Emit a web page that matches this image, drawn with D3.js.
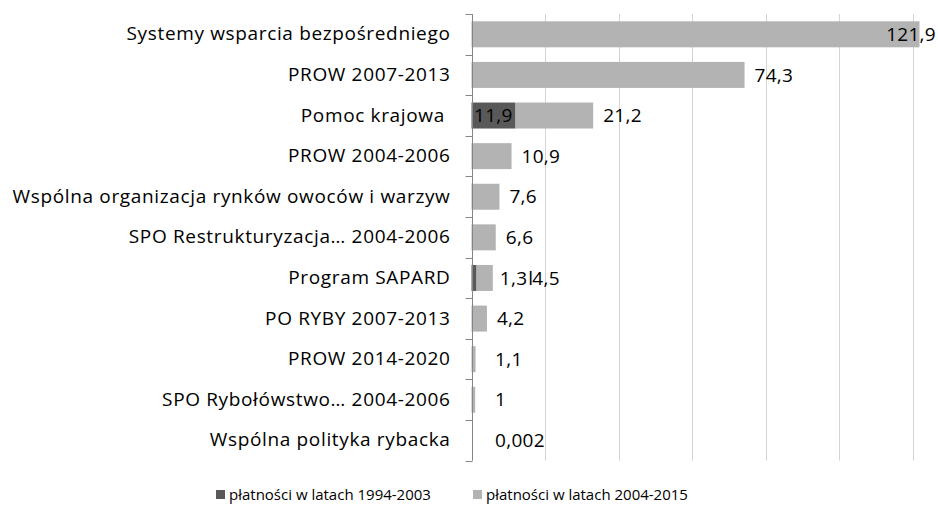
<!DOCTYPE html>
<html><head><meta charset="utf-8">
<script src="https://cdn.jsdelivr.net/npm/d3@7"></script>
<style>
html,body{margin:0;padding:0;background:#fff;}
svg{display:block;}
text{font-family:"Open Sans",sans-serif;fill:#000;white-space:pre;}
</style></head>
<body>
<svg id="chart" width="938" height="510"></svg>
<script>
const categories = [
  "Systemy wsparcia bezpośredniego",
  "PROW 2007-2013",
  "Pomoc krajowa ",
  "PROW 2004-2006",
  "Wspólna organizacja rynków owoców i warzyw",
  "SPO Restrukturyzacja… 2004-2006",
  "Program SAPARD",
  "PO RYBY 2007-2013",
  "PROW 2014-2020",
  "SPO Rybołówstwo… 2004-2006",
  "Wspólna polityka rybacka"
];
const series1994 = [0, 0, 11.9, 0, 0, 0, 1.3, 0, 0, 0, 0];
const series2004 = [121.9, 74.3, 21.2, 10.9, 7.6, 6.6, 4.5, 4.2, 1.1, 1, 0.002];
const seriesNames = ["płatności w latach 1994-2003", "płatności w latach 2004-2015"];
const xTicks = [0, 20, 40, 60, 80, 100, 120, 140];
const colors = ["#595959", "#b3b3b3"];

const fmt = v => String(v).replace(".", ",");
const svg = d3.select("#chart");
const W = 938;
const FS = "19px";
const LS = "0.65px";
const x = d3.scaleLinear().domain([0, 140]).range([471.5, 986]);
const y = d3.scaleBand().domain(categories).range([14, 460.7]).paddingInner(0.36).paddingOuter(0.18);

// gridlines
svg.append("g").selectAll("line").data(xTicks.filter(t => t > 0)).join("line")
  .attr("x1", d => Math.round(x(d)) + 0.5).attr("x2", d => Math.round(x(d)) + 0.5)
  .attr("y1", 14).attr("y2", 460.7)
  .attr("stroke", "#d4d4d4").attr("stroke-width", 1);

// bars
const rows = categories.map((c, i) => ({c, a: series1994[i], b: series2004[i]}));
const g = svg.append("g");
g.selectAll("rect.b").data(rows).join("rect").attr("class", "b")
  .attr("x", d => x(d.a)).attr("width", d => x(d.a + d.b) - x(d.a))
  .attr("y", d => y(d.c)).attr("height", y.bandwidth())
  .attr("fill", colors[1]);
g.selectAll("rect.a").data(rows.filter(d => d.a > 0)).join("rect").attr("class", "a")
  .attr("x", x(0)).attr("width", d => x(d.a) - x(0))
  .attr("y", d => y(d.c)).attr("height", y.bandwidth())
  .attr("fill", colors[0]);

// y axis
const yAxis = d3.axisLeft(y).tickSize(0).tickPadding(22);
const ya = svg.append("g").attr("transform", `translate(${Math.round(x(0)) + 0.5},0)`).call(yAxis);
ya.select(".domain").remove();
ya.selectAll("text").style("font-size", FS).style("font-family", "Open Sans")
  .style("letter-spacing", LS).attr("fill", "#000");
const ax = svg.append("g").attr("transform", `translate(${Math.round(x(0)) + 0.5},0)`);
ax.append("line").attr("y1", 14).attr("y2", 460.7).attr("stroke", "#868686");
const bounds = [14].concat(categories.map((c, i) => 14 + (460.7 - 14) * (i + 1) / categories.length));
ax.selectAll("line.t").data(bounds).join("line").attr("class", "t")
  .attr("x1", -7).attr("x2", 0).attr("y1", d => Math.round(d) + 0.5).attr("y2", d => Math.round(d) + 0.5)
  .attr("stroke", "#868686");

// value labels
const lab = svg.append("g").style("font-size", FS).style("letter-spacing", "0.3px");
rows.forEach(d => {
  const yc = y(d.c) + y.bandwidth() / 2;
  const end = x(d.a + d.b);
  let cursor = Math.max(end + 10, 495);
  if (d.a > 0) {
    const t = lab.append("text").attr("y", yc).attr("dy", "0.35em").text(fmt(d.a));
    const w = t.node().getComputedTextLength();
    if (x(d.a) - x(0) > w + 4) {
      t.attr("x", (x(0) + x(d.a)) / 2).attr("text-anchor", "middle");
    } else {
      t.attr("x", end + 7);
      cursor = end + 7 + w;
      lab.append("text").attr("x", cursor + 1).attr("y", yc).attr("dy", "0.35em").text("l");
      cursor += 5;
    }
  }
  const t2 = lab.append("text").attr("y", yc).attr("dy", "0.35em").text(fmt(d.b));
  const w2 = t2.node().getComputedTextLength();
  if (cursor + w2 > W - 2) t2.attr("x", W - 2).attr("text-anchor", "end");
  else t2.attr("x", cursor);
});

// legend
const leg = svg.append("g").style("font-size", "15px");
const legX = [216, 473];
seriesNames.forEach((n, i) => {
  leg.append("rect").attr("x", legX[i]).attr("y", 490).attr("width", 9).attr("height", 9).attr("fill", colors[i]);
  leg.append("text").attr("x", legX[i] + 13).attr("y", 495).attr("dy", "0.35em").attr("fill", "#404040").text(n);
});
</script>
</body></html>
